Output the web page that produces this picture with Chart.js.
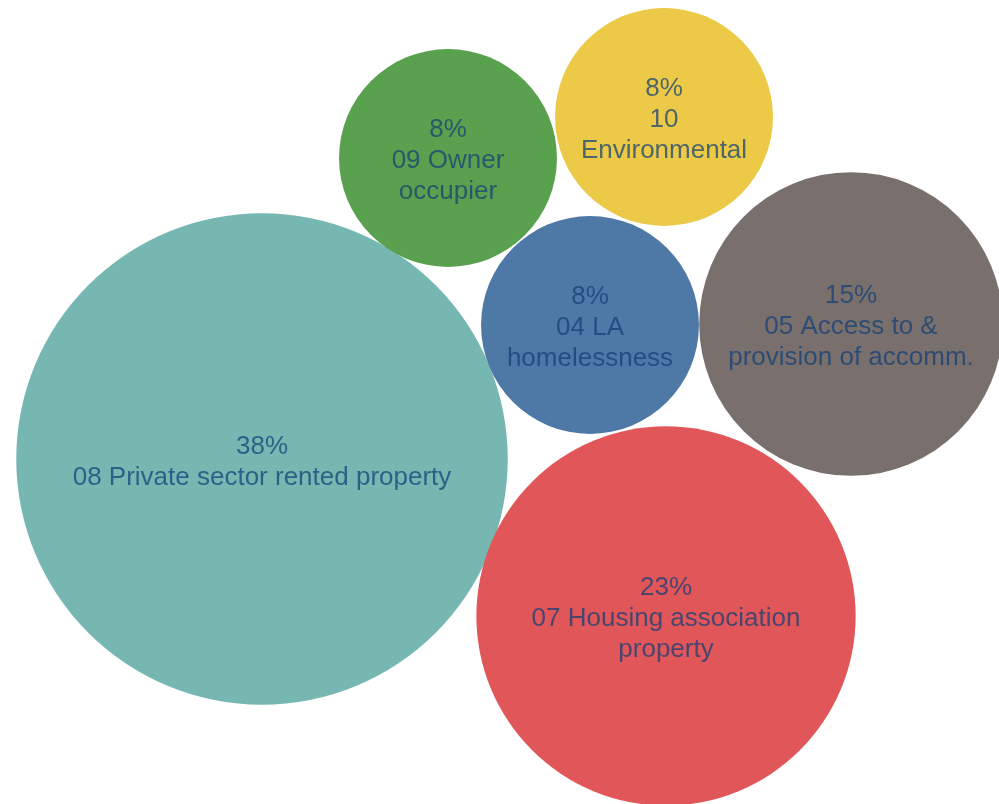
<!DOCTYPE html>
<html>
<head>
<meta charset="utf-8">
<script src="https://cdn.jsdelivr.net/npm/chart.js@4"></script>
<style>
    html, body { margin: 0; padding: 0; background: #ffffff; }
    #bubbleChart { display: block; }
</style>
</head>
<body>
<canvas id="bubbleChart" width="999" height="804"></canvas>
<script>
const categories = [
    ['08 Private sector rented property'],
    ['07 Housing association', 'property'],
    ['05 Access to &', 'provision of accomm.'],
    ['04 LA', 'homelessness'],
    ['09 Owner', 'occupier'],
    ['10', 'Environmental']
];
const percents = [38, 23, 15, 8, 8, 8];
// packed layout positions (layout units, y counted from the top)
const packX = [262, 666, 851, 590, 448, 664];
const packY = [459, 616, 324, 325, 158, 117];
const colors = ['#76B7B2', '#E15759', '#79706E', '#4E79A7', '#59A14F', '#EDC948'];

const bubbleRadius = v => 41 * Math.sqrt(v) - 7;

const bubbleLabels = {
    id: 'bubbleLabels',
    afterDatasetsDraw(chart) {
        const ctx = chart.ctx;
        const meta = chart.getDatasetMeta(0);
        ctx.save();
        ctx.font = '26px "Liberation Sans", Arial, sans-serif';
        ctx.fillStyle = 'rgba(16, 62, 118, 0.72)';
        ctx.textAlign = 'center';
        ctx.textBaseline = 'middle';
        const lineH = 31;
        meta.data.forEach((pt, i) => {
            const lines = [percents[i] + '%'].concat(categories[i]);
            const top = pt.y + 3 - (lines.length - 1) * lineH / 2;
            lines.forEach((txt, j) => ctx.fillText(txt, pt.x, top + j * lineH));
        });
        ctx.restore();
    }
};

new Chart(document.getElementById('bubbleChart').getContext('2d'), {
    type: 'bubble',
    data: {
        datasets: [{
            data: percents.map((v, i) => ({ x: packX[i], y: packY[i], v: v })),
            backgroundColor: colors,
            borderWidth: 0,
            hoverBorderWidth: 0,
            radius: c => bubbleRadius(c.raw.v),
            hoverRadius: 0,
            clip: false
        }]
    },
    options: {
        responsive: false,
        animation: false,
        events: [],
        layout: { padding: 0, autoPadding: false },
        scales: {
            x: { type: 'linear', min: 0, max: 999, display: false },
            y: { type: 'linear', min: 0, max: 804, reverse: true, display: false }
        },
        plugins: {
            legend: { display: false },
            tooltip: { enabled: false }
        }
    },
    plugins: [bubbleLabels]
});
</script>
</body>
</html>
